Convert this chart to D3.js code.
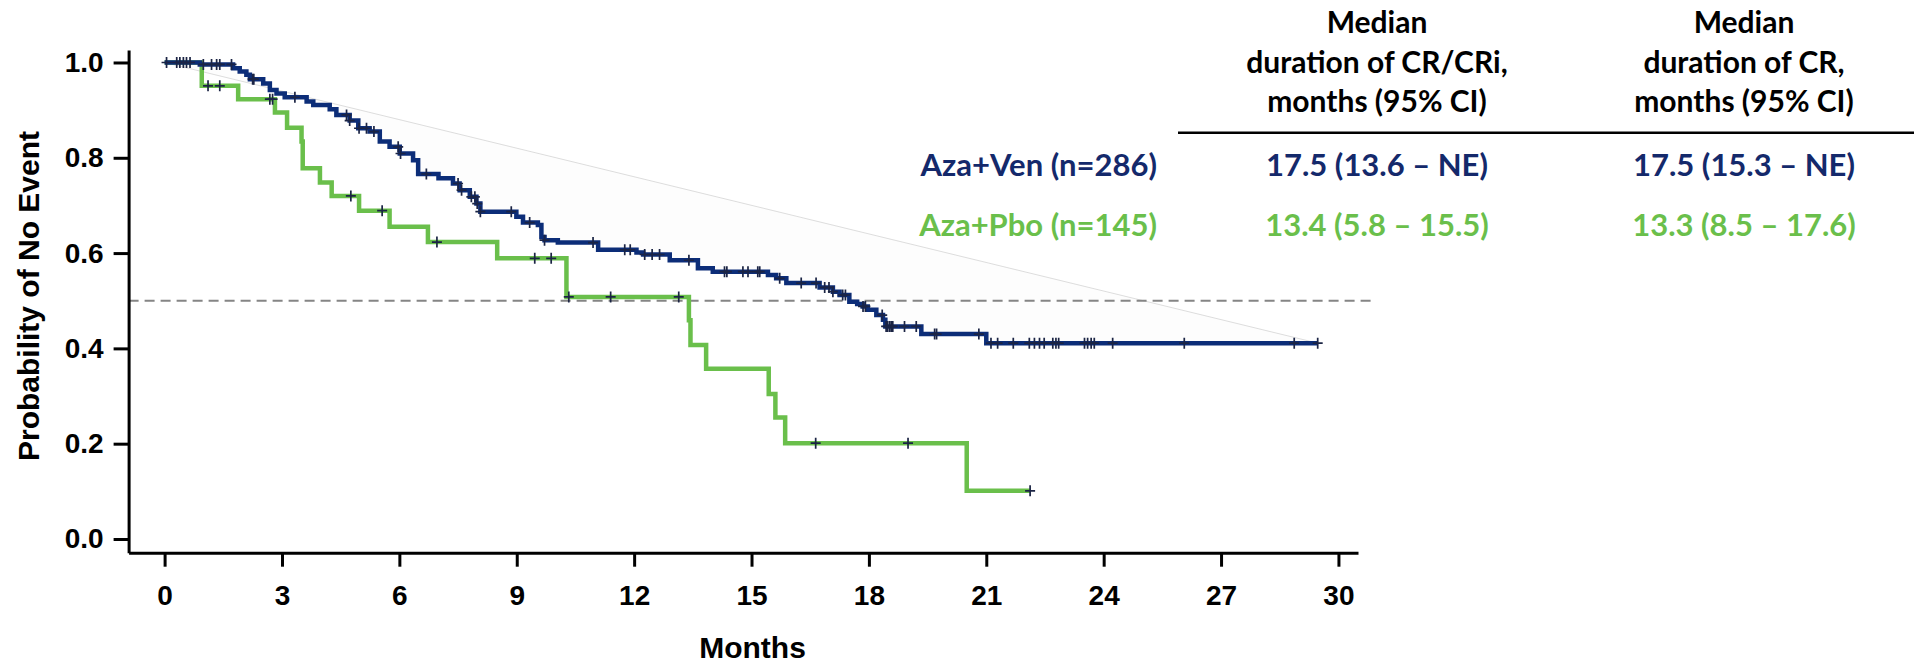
<!DOCTYPE html>
<html>
<head>
<meta charset="utf-8">
<script src="https://cdn.jsdelivr.net/npm/d3@7"></script>
<style>
  body { margin: 0; background: #fff; }
  .axis text { font-family: "Liberation Sans", Arial, sans-serif; font-weight: bold; font-size: 28px; fill: #000; }
  .axis path, .axis line { stroke: #000; }
</style>
</head>
<body>
<script>
// Aza+Ven: event times (months) and survival after each drop
const venTimes = [0.90, 1.75, 1.92, 2.09, 2.18, 2.52, 2.69, 2.86, 3.07, 3.63, 3.80, 4.22, 4.39, 4.73, 4.95, 5.24, 5.50, 5.75, 6.01, 6.35,
                  6.48, 7.00, 7.37, 7.54, 7.80, 7.97, 8.07, 8.99, 9.16, 9.54, 9.63, 9.71, 10.05, 11.08, 12.06, 12.23, 12.91, 13.63, 14.01, 15.42,
                  15.63, 15.89, 16.74, 17.08, 17.25, 17.50, 17.70, 17.84, 17.97, 18.19, 18.36, 18.42, 19.34, 21.00];
const venSurv = [0.996, 0.988, 0.981, 0.974, 0.965, 0.956, 0.942, 0.935, 0.927, 0.918, 0.911, 0.902, 0.890, 0.878, 0.862, 0.855, 0.834, 0.823, 0.809, 0.795,
                 0.766, 0.757, 0.746, 0.732, 0.718, 0.704, 0.687, 0.676, 0.664, 0.659, 0.634, 0.627, 0.622, 0.607, 0.601, 0.597, 0.585, 0.568, 0.561, 0.554,
                 0.547, 0.537, 0.528, 0.519, 0.512, 0.498, 0.493, 0.488, 0.481, 0.470, 0.460, 0.446, 0.430, 0.411];
const venCensor = [0.05, 0.31, 0.39, 0.48, 0.56, 0.65, 0.99, 1.20, 1.33, 1.41, 1.71, 2.25, 2.28, 3.33, 4.65, 4.73, 4.97, 5.16, 5.35, 5.97,
                   6.03, 6.69, 7.50, 7.59, 7.84, 7.93, 7.99, 8.07, 8.86, 9.33, 9.71, 10.95, 11.76, 11.90, 12.27, 12.46, 12.65, 13.40, 14.31, 14.37,
                   14.78, 14.91, 15.16, 15.21, 15.72, 16.27, 16.65, 16.87, 16.98, 17.08, 17.33, 17.40, 17.85, 17.91, 18.34, 18.44, 18.48, 18.53, 18.57, 18.61,
                   18.91, 19.21, 19.68, 19.73, 20.81, 21.12, 21.29, 21.69, 22.10, 22.23, 22.36, 22.48, 22.70, 22.78, 22.85, 23.51, 23.59, 23.68, 23.76, 24.23,
                   26.06, 28.87, 29.47];

// Aza+Pbo
const pboTimes = [0.95, 1.88, 2.82, 3.13, 3.50, 3.53, 3.97, 4.27, 4.97, 5.75, 6.73, 8.50, 10.27, 13.40, 13.44, 13.84, 15.44, 15.61, 15.86, 20.50];
const pboSurv = [0.951, 0.923, 0.895, 0.863, 0.834, 0.778, 0.748, 0.720, 0.689, 0.655, 0.623, 0.589, 0.508, 0.459, 0.407, 0.357, 0.304, 0.255, 0.201, 0.101];
const pboCensor = [1.11, 1.41, 2.69, 2.76, 4.76, 5.56, 6.96, 9.46, 9.88, 10.33, 11.40, 13.14, 16.64, 19.00, 22.12];

const xTicks = [0, 3, 6, 9, 12, 15, 18, 21, 24, 27, 30];
const yTicks = [0, 0.2, 0.4, 0.6, 0.8, 1.0];
const medianLevel = 0.5;

// table on the right
const colHeaders = [
    ['Median', 'duration of CR/CRi,', 'months (95% CI)'],
    ['Median', 'duration of CR,', 'months (95% CI)']
];
const armLabels = ['Aza+Ven (n=286)', 'Aza+Pbo (n=145)'];
const crCriMedians = ['17.5 (13.6 – NE)', '13.4 (5.8 – 15.5)'];
const crMedians = ['17.5 (15.3 – NE)', '13.3 (8.5 – 17.6)'];

const blue = '#0c2d78', blueText = '#14296b', green = '#6abf4b', censorColor = '#1b2444';

const W = 1914, H = 664;
const svg = d3.select('body').append('svg')
    .attr('width', W)
    .attr('height', H);

// scales (axes are offset a little from the data origin)
const x = d3.scaleLinear().domain([-0.92, 30.5]).range([128.6, 1358]);
const y = d3.scaleLinear().domain([-0.0288, 1.0262]).range([552.7, 50]);

// build step series
function steps(times, surv, lastTime) {
    const pts = [[0, 1]];
    times.forEach((t, i) => pts.push([t, surv[i]]));
    pts.push([lastTime, surv[surv.length - 1]]);
    return pts;
}
function survAt(times, surv, t) {
    let s = 1;
    times.forEach((tt, i) => { if (tt <= t) s = surv[i]; });
    return s;
}
const venPts = steps(venTimes, venSurv, d3.max(venCensor));
const pboPts = steps(pboTimes, pboSurv, d3.max(pboCensor));

const stepLine = d3.line()
    .x(d => x(d[0]))
    .y(d => y(d[1]))
    .curve(d3.curveStepAfter);

// faint filled shape of the Aza+Ven curve and its closing chord
svg.append('path')
    .attr('d', stepLine(venPts))
    .attr('fill', '#fdfdfd')
    .attr('stroke', 'none');
const chord = [venPts[0], venPts[venPts.length - 1]];
svg.append('line')
    .attr('x1', x(chord[0][0])).attr('y1', y(chord[0][1]))
    .attr('x2', x(chord[1][0])).attr('y2', y(chord[1][1]))
    .attr('stroke', '#cfcfcf')
    .attr('stroke-width', 0.7);

// median reference line
svg.append('line')
    .attr('x1', x.range()[0]).attr('x2', 1376)
    .attr('y1', y(medianLevel)).attr('y2', y(medianLevel))
    .attr('stroke', '#858585')
    .attr('stroke-width', 2)
    .attr('stroke-dasharray', '10,6');

// axes
const axisLeft = d3.axisLeft(y)
    .tickValues(yTicks)
    .tickFormat(d3.format('.1f'))
    .tickSize(15)
    .tickSizeOuter(0)
    .tickPadding(10);
svg.append('g')
    .attr('class', 'axis')
    .attr('transform', 'translate(' + x.range()[0] + ',0)')
    .call(axisLeft)
    .call(g => g.selectAll('path, line').attr('stroke-width', 3));

const axisBottom = d3.axisBottom(x)
    .tickValues(xTicks)
    .tickSize(14)
    .tickSizeOuter(0)
    .tickPadding(18);
svg.append('g')
    .attr('class', 'axis')
    .attr('transform', 'translate(0,' + y.range()[0] + ')')
    .call(axisBottom)
    .call(g => g.selectAll('path, line').attr('stroke-width', 3));

// axis titles
svg.append('text')
    .attr('transform', 'translate(39,296) rotate(-90)')
    .attr('text-anchor', 'middle')
    .attr('font-family', '"Liberation Sans", Arial, sans-serif')
    .attr('font-weight', 'bold')
    .attr('font-size', 30)
    .text('Probability of No Event');

svg.append('text')
    .attr('x', x(15) + 1)
    .attr('y', 658)
    .attr('text-anchor', 'middle')
    .attr('font-family', '"Liberation Sans", Arial, sans-serif')
    .attr('font-weight', 'bold')
    .attr('font-size', 30)
    .text('Months');

// curves
svg.append('path')
    .attr('d', stepLine(pboPts))
    .attr('fill', 'none')
    .attr('stroke', green)
    .attr('stroke-width', 4.5);
svg.append('path')
    .attr('d', stepLine(venPts))
    .attr('fill', 'none')
    .attr('stroke', blue)
    .attr('stroke-width', 4.5);

// censor marks
const censors = venCensor.map(t => [t, survAt(venTimes, venSurv, t)])
    .concat(pboCensor.map(t => [t, survAt(pboTimes, pboSurv, t)]));
svg.append('g')
    .selectAll('path')
    .data(censors)
    .enter()
    .append('path')
        .attr('d', d => {
            const cx = x(d[0]), cy = y(d[1]);
            return 'M' + (cx - 5) + ',' + cy + 'H' + (cx + 5) + 'M' + cx + ',' + (cy - 5.5) + 'V' + (cy + 5.5);
        })
        .attr('stroke', censorColor)
        .attr('stroke-width', 1.7)
        .attr('fill', 'none');

// table
const colX = [1377, 1744];
const tableFont = 'Lato, "Open Sans", sans-serif';
const header = svg.append('g')
    .attr('font-family', tableFont)
    .attr('font-weight', 'bold')
    .attr('font-size', 30)
    .attr('text-anchor', 'middle');
colHeaders.forEach((lines, c) => {
    lines.forEach((txt, i) => {
        header.append('text')
            .attr('x', colX[c])
            .attr('y', 33 + i * 39.5)
            .text(txt);
    });
});
svg.append('line')
    .attr('x1', 1178).attr('x2', W)
    .attr('y1', 132.7).attr('y2', 132.7)
    .attr('stroke', '#000')
    .attr('stroke-width', 2.5);

const rowY = [176, 236];
const rowColors = [blueText, green];
const rows = svg.append('g')
    .attr('font-family', tableFont)
    .attr('font-weight', 'bold')
    .attr('font-size', 31);
armLabels.forEach((lbl, i) => {
    rows.append('text')
        .attr('x', 1157).attr('y', rowY[i])
        .attr('text-anchor', 'end')
        .attr('fill', rowColors[i])
        .text(lbl);
    rows.append('text')
        .attr('x', colX[0]).attr('y', rowY[i])
        .attr('text-anchor', 'middle')
        .attr('fill', rowColors[i])
        .text(crCriMedians[i]);
    rows.append('text')
        .attr('x', colX[1]).attr('y', rowY[i])
        .attr('text-anchor', 'middle')
        .attr('fill', rowColors[i])
        .text(crMedians[i]);
});
</script>
</body>
</html>
